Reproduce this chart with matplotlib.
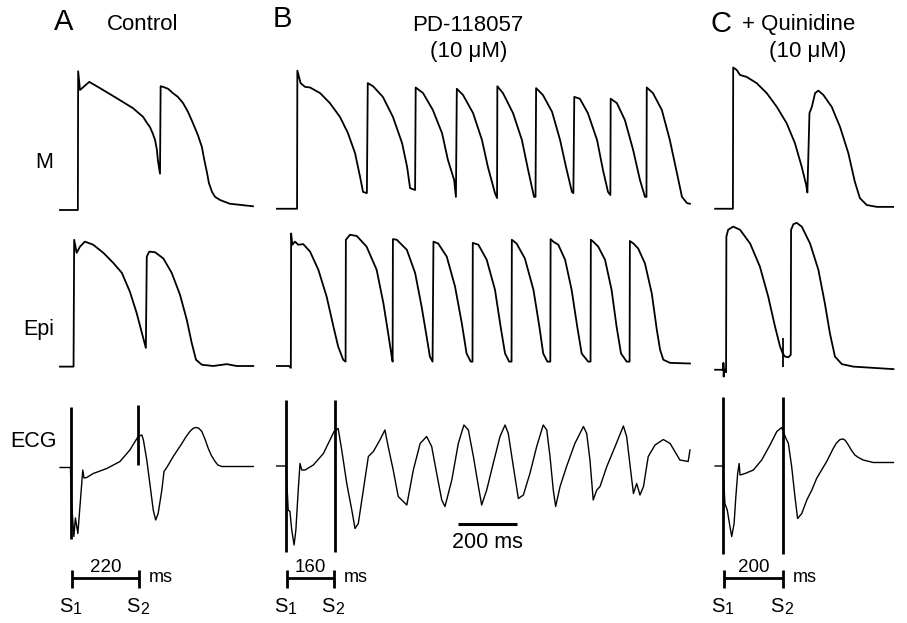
import matplotlib
matplotlib.use('Agg')
import matplotlib.pyplot as plt

plt.rcParams['font.family'] = ['Liberation Sans', 'DejaVu Sans']

W, H = 907, 623

# ---- data: time in ms from S1, membrane potential in mV, ECG in mV ----
# M cell action potentials
A_M_T = [-38, 20, 21, 27, 57, 92, 146, 199, 232, 245, 254, 263, 271, 277, 280, 287, 289, 297, 313, 329, 345, 362,
         378, 394, 410, 423, 431, 440, 446, 456, 466, 482, 514, 589]
A_M_V = [-85, -85, 26, 11, 17.5, 12.5, 4.5, -3.5, -10.5, -15.5, -18.5, -23.5, -29, -37, -45, -56, 14, 13.5, 12, 8.5,
         5.5, 0.5, -6.5, -15.5, -25, -34.5, -45, -55.5, -63.5, -70.5, -74.5, -77, -80, -82]
B_M_T = [-33, 35, 36, 47, 62, 79, 113, 146, 180, 207, 231, 248, 258, 271, 274, 292, 325, 359, 390, 407, 417, 434,
         436, 461, 494, 525, 545, 566, 572, 575, 596, 630, 660, 680, 704, 711, 712, 731, 765, 795, 816, 836, 841, 843,
         866, 897, 924, 944, 964, 969, 972, 991, 1018, 1049, 1069, 1086, 1094, 1095, 1116, 1143, 1171, 1194, 1211,
         1216, 1217, 1238, 1268, 1295, 1319, 1336, 1353, 1363]
B_M_V = [-84, -84, 26.5, 16.5, 13.5, 13, 8.5, 0.5, -10.5, -23.5, -39.5, -58.5, -70.5, -71.5, 16.5, 14, 5.5, -10.5,
         -31.5, -50.5, -67.5, -69, 13, 8.5, -5, -23.5, -45, -61, -74.5, 12, 7, -7.5, -29, -50.5, -71.5, -75.5, 14,
         8.5, -7.5, -29, -53, -74.5, -74.5, 12.5, 7, -6.5, -29, -50.5, -70.5, -71.5, 5.5, 4, -7.5, -29, -53, -70.5,
         -73, 4, 0.5, -13, -37, -61, -74.5, -74.5, 13, 8.5, -5, -29, -55.5, -74.5, -79.5, -80]
C_M_T = [-30, 30, 31, 43, 54, 76, 110, 144, 178, 211, 239, 262, 277, 281, 288, 296, 307, 318, 335, 363, 391, 419, 441, 458, 481, 515, 570]
C_M_V = [-84, -84, 29, 27, 23, 21.5, 16.5, 8.5, -2.5, -15.5, -31.5, -50.5, -65, -71, -7.5, -2.5, 8.5, 10.5, 7, -2.5, -18.5, -39.5, -62.5, -75.5, -81, -82.5, -82.5]

# Epicardial action potentials
A_EPI_T = [-38, 6, 8, 16, 27, 43, 70, 103, 135, 163, 189, 211, 228, 241, 244, 252, 271, 298, 325, 352, 374, 390, 404, 423, 460, 504, 536, 590]
A_EPI_V = [-85.5, -85.5, 16, 5.5, 10.5, 14.5, 12, 5.5, -2.5, -10.5, -25.5, -42.5, -58.5, -70.5, 2.5, 6.5, 6, 1, -10.5, -28, -48, -66.5, -80, -84, -85, -83.5, -85, -85]
B_EPI_T = [-33, 8, 14, 15, 19, 28, 39, 56, 79, 107, 135, 158, 174, 191, 199, 200, 214, 237, 270, 304, 327, 343, 355,
           358, 359, 372, 406, 434, 456, 473, 484, 493, 496, 512, 541, 569, 592, 608, 622, 628, 629, 648, 676, 704,
           723, 738, 752, 760, 761, 777, 805, 834, 854, 867, 881, 891, 892, 901, 918, 941, 963, 982, 997, 1019, 1027,
           1028, 1036, 1053, 1076, 1098, 1115, 1130, 1149, 1159, 1160, 1172, 1188, 1211, 1234, 1251, 1262, 1273, 1296, 1363]
B_EPI_V = [-85, -85, -86.5, 21, 12, 14.5, 12, 12.5, 6.5, -8, -29.5, -53.5, -69.5, -80, -81.5, 16, 20, 19, 10.5, -8,
           -35, -59, -77.5, -81.5, 16.5, 16, 8, -10.5, -37.5, -61.5, -77.5, -81.5, 14.5, 13, 2.5, -21.5, -51, -75,
           -81.5, -81.5, 13.5, 12, 0, -24, -53.5, -75, -81.5, -81.5, 16, 13, 1, -24, -53.5, -75, -81.5, -81.5, 16.5,
           14.5, 12, 0, -24, -53.5, -75, -81.5, -81.5, 16, 14.5, 10.5, 0, -24, -53.5, -75, -81.5, -81.5, 15, 13, 9,
           -3, -27, -56, -72, -80, -82.5, -83]
C_EPI_T = [-30, -2, -2, -1, 0, 5, 7, 8, 14, 31, 54, 88, 121, 149, 172, 189, 198, 206, 217, 225, 226, 234, 245, 262, 290, 318, 340, 357, 374, 397, 436, 571]
C_EPI_V = [-88, -88, -82.5, -93.5, -88, -88, -90, 18.5, 24, 26.5, 24, 13, -5.5, -29.5, -53.5, -69.5, -75, -77.5, -78, -76, 24, 28.5, 29.5, 26.5, 13, -8, -35, -59, -77.5, -83.5, -85.5, -87.5]
C_EPI_ART_T = [200]
C_EPI_ART_V = [(-85.5, -62.5)]

# transmural ECG
A_ECG_T = [-38, -4, -1, 7, 12, 20, 36, 40, 49, 70, 114, 157, 189, 216, 228, 233, 244, 254, 265, 273, 281, 293, 300,
           309, 330, 358, 371, 384, 394, 403, 412, 423, 433, 444, 454, 466, 475, 488, 590]
A_ECG_V = [-0.03, -0.03, -0.68, -1.41, -1.04, -1.35, -0.08, -0.24, -0.23, -0.15, -0.05, 0.09, 0.32, 0.59, 0.62,
           0.52, 0.12, -0.35, -0.88, -1.08, -0.95, -0.48, -0.11, -0.03, 0.19, 0.45, 0.58, 0.69, 0.75, 0.77, 0.76,
           0.69, 0.54, 0.35, 0.21, 0.09, 0.02, -0.01, -0.01]
B_ECG_T = [-34, -2, 5, 11, 17, 25, 31, 39, 45, 51, 62, 90, 124, 152, 160, 174, 186, 203, 220, 231, 242, 259, 276, 293,
           315, 332, 343, 360, 377, 406, 428, 451, 473, 490, 507, 524, 535, 558, 580, 599, 614, 631, 648, 659, 676,
           698, 721, 738, 749, 766, 783, 800, 822, 845, 867, 879, 890, 901, 909, 924, 946, 974, 1003, 1014, 1025,
           1036, 1048, 1059, 1082, 1110, 1138, 1149, 1161, 1172, 1183, 1194, 1206, 1222, 1245, 1273, 1296, 1329, 1357, 1363]
B_ECG_V = [0, 0, -0.88, -0.91, -1.28, -1.58, -1.28, -0.48, 0.05, -0.08, -0.08, 0.02, 0.25, 0.59, 0.69, 0.75, 0.32,
           -0.35, -0.88, -1.25, -1.15, -0.48, 0.19, 0.29, 0.52, 0.72, 0.39, -0.08, -0.61, -0.78, -0.08, 0.45, 0.59,
           0.39, -0.15, -0.68, -0.81, -0.28, 0.45, 0.82, 0.72, 0.19, -0.41, -0.78, -0.48, 0.05, 0.59, 0.82, 0.65,
           -0.01, -0.65, -0.58, -0.15, 0.39, 0.82, 0.72, 0.19, -0.48, -0.81, -0.41, -0.01, 0.45, 0.79, 0.65, 0.12,
           -0.68, -0.48, -0.41, -0.01, 0.39, 0.8, 0.59, -0.01, -0.55, -0.35, -0.58, -0.41, 0.19, 0.42, 0.53, 0.45,
           0.12, 0.09, 0.32]
C_ECG_T = [-30, -3, 3, 11, 20, 26, 34, 40, 46, 51, 54, 71, 99, 127, 155, 178, 194, 209, 217, 228, 239, 248, 262, 279,
           296, 312, 329, 346, 368, 379, 391, 402, 409, 419, 429, 441, 453, 469, 503, 571]
C_ECG_V = [0, 0, -0.75, -0.88, -1.21, -1.41, -1.15, -0.61, -0.15, 0.05, -0.18, -0.15, -0.08, 0.12, 0.42, 0.69, 0.77,
           0.55, 0.45, -0.01, -0.61, -1.05, -0.95, -0.68, -0.48, -0.25, -0.08, 0.09, 0.35, 0.46, 0.53, 0.54, 0.51,
           0.42, 0.32, 0.22, 0.17, 0.12, 0.07, 0.07]

# stimulus artefacts on the ECG (S1, S2)
STIM_T = [[-3, 216], [-1, 162], [-2, 198]]
STIM_TOP = [[1.19, 1.22], [1.32, 1.32], [1.39, 1.39]]
STIM_BOT = [[-1.45, 0.02], [-1.71, -1.71], [-1.75, -1.75]]

S1S2_MS = [220, 160, 200]
CAL_MS = 200

M_T = [A_M_T, B_M_T, C_M_T]
M_V = [A_M_V, B_M_V, C_M_V]
EPI_T = [A_EPI_T, B_EPI_T, C_EPI_T]
EPI_V = [A_EPI_V, B_EPI_V, C_EPI_V]
ECG_T = [A_ECG_T, B_ECG_T, C_ECG_T]
ECG_V = [A_ECG_V, B_ECG_V, C_ECG_V]

# ---- layout (pixels of the 907x623 canvas) ----
# column: left, right, x of S1, ms per pixel
COLS = [(55, 262, 71.7, 3.25), (270, 700, 286.7, 3.38), (705, 900, 724.0, 3.37)]
# row: top, bottom, reference y, value at reference, units per pixel
ROW_M = (55, 222, 210, -85, 0.8)
ROW_EPI = (215, 380, 366, -85, 0.8)
ROW_ECG = (390, 560, 466, 0, 0.02)
ROW_BAR = (550, 623, 623, 0, 1 / 68)


def add_panel(fig, col, row):
    left, right, x0, ms_px = col
    top, bottom, yref, vref, v_px = row
    ax = fig.add_axes([left / W, 1 - bottom / H, (right - left) / W, (bottom - top) / H])
    ax.set_xlim((left - x0) * ms_px, (right - x0) * ms_px)
    ax.set_ylim(vref - (bottom - yref) * v_px, vref + (yref - top) * v_px)
    ax.axis('off')
    return ax


fig = plt.figure(figsize=(W / 100, H / 100), dpi=100)

for i, col in enumerate(COLS):
    ms_px = col[3]

    ax = add_panel(fig, col, ROW_M)
    ax.plot(M_T[i], M_V[i], color='black', lw=1.3)

    ax = add_panel(fig, col, ROW_EPI)
    ax.plot(EPI_T[i], EPI_V[i], color='black', lw=1.3)
    if i == 2:
        for t, (lo, hi) in zip(C_EPI_ART_T, C_EPI_ART_V):
            ax.vlines(t, lo, hi, color='black', lw=1.3)

    ax = add_panel(fig, col, ROW_ECG)
    ax.plot(ECG_T[i], ECG_V[i], color='black', lw=1.0)
    ax.vlines(STIM_T[i], STIM_BOT[i], STIM_TOP[i], color='black', lw=2.0)
    if i == 1:
        ax.plot([578, 578 + CAL_MS], [-1.15, -1.15], color='black', lw=2.2, solid_capstyle='butt')
        ax.text(578 + CAL_MS / 2, -1.54, '%d ms' % CAL_MS, ha='center', va='center', fontsize=15.5)

    # S1-S2 interval bar
    ax = add_panel(fig, col, ROW_BAR)
    s2 = S1S2_MS[i]
    ax.plot([0, s2], [0.657, 0.657], color='black', lw=2.0, solid_capstyle='butt')
    ax.vlines([0, s2], 0.515, 0.78, color='black', lw=2.0)
    ax.text(s2 / 2, 0.745, str(s2), ha='center', va='baseline', fontsize=13.5)
    ax.text(s2 + 9.5 * ms_px, 0.67, 'ms', ha='left', va='center', fontsize=13)
    for t, sub in [(0, '1'), (s2, '2')]:
        ax.text(t + 0.5 * ms_px, 0.162, 'S', ha='right', va='baseline', fontsize=14.5)
        ax.text(t + 1.0 * ms_px, 0.13, sub, ha='left', va='baseline', fontsize=11.5)


def ftext(x, y, s, size, **kw):
    fig.text(x / W, 1 - y / H, s, fontsize=size, va='baseline', ha='center', **kw)


ftext(64, 30, 'A', 21)
ftext(143, 30, 'Control', 16)
ftext(282, 27, 'B', 21)
ftext(468, 31, 'PD-118057', 16)
ftext(469, 57, '(10 μM)', 16)
ftext(721, 31.5, 'C', 21)
ftext(799, 30, '+ Quinidine', 16)
ftext(808, 57, '(10 μM)', 16)

ftext(44, 168, 'M', 15.5)
ftext(39, 335, 'Epi', 15.5)
ftext(34, 447, 'ECG', 15.5)

fig.savefig('out.png', dpi=100)
